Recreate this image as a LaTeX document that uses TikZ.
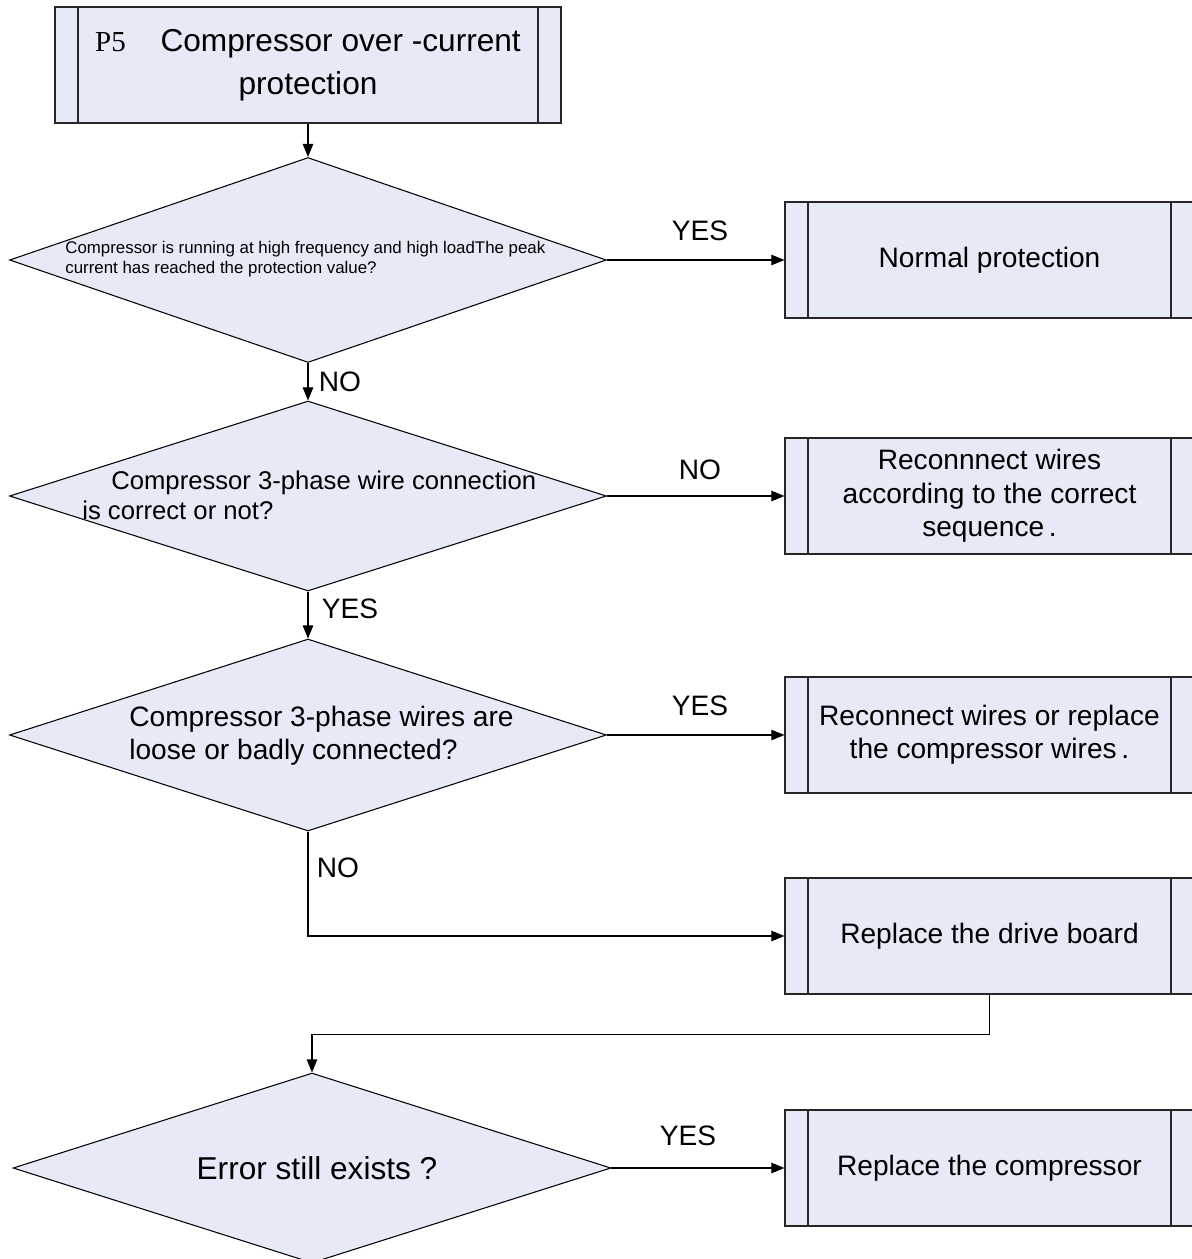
\documentclass[tikz,border=0pt]{standalone}
\usepackage{fontspec}
\setmainfont{Liberation Sans}
\newfontfamily\serifP{Liberation Serif}
\usetikzlibrary{shapes.geometric, arrows.meta}
\definecolor{fundo}{RGB}{230,234,246}

\begin{document}
\begin{tikzpicture}[
  x=0.02cm, y=-0.02cm,
  every node/.style={font=\fontsize{16}{19}\selectfont, align=center},
  proc/.style={rectangle, draw=black!85, line width=0.7pt, fill=fundo, minimum height=2.32cm, inner sep=0pt,
    path picture={
      \draw[black!85, line width=0.7pt] ([xshift=0.46cm]path picture bounding box.north west) -- ([xshift=0.46cm]path picture bounding box.south west);
      \draw[black!85, line width=0.7pt] ([xshift=-0.46cm]path picture bounding box.north east) -- ([xshift=-0.46cm]path picture bounding box.south east);}},
  dec/.style={diamond, draw=black, line width=0.6pt, fill=fundo, minimum width=11.94cm, inner sep=0pt},
  rot/.style={inner sep=0pt},
  seta/.style={-{Triangle[length=7.5pt, width=6pt]}, line width=0.6pt}
]
\useasboundingbox (0,0) rectangle (1192,1259);

% Caixa de titulo
\node[proc, minimum width=10.12cm, font=\fontsize{18}{24.4}\selectfont] (p5) at (308,65)
  {{\serifP\fontsize{16.5}{24.4}\selectfont P5}\hspace{1.1em}Compressor over -current\\protection};

% Losangos de decisao
\node[dec, minimum height=4.1cm] (d1) at (308,260) {};
\node[dec, minimum height=3.8cm] (d2) at (308,496) {};
\node[dec, minimum height=3.84cm] (d3) at (308,735) {};
\node[dec, minimum width=11.96cm, minimum height=3.8cm] (d5) at (312,1168) {};
\node[rot, anchor=west, align=left, font=\fontsize{9.6}{11.3}\selectfont] (t1) at (65,259)
  {Compressor is running at high frequency and high loadThe peak\\current has reached the protection value?};
\node[rot, anchor=west, align=left, font=\fontsize{14.6}{17}\selectfont] (t2) at (82,495)
  {\hspace*{0.58cm}Compressor 3-phase wire connection\\is correct or not?};
\node[rot, anchor=west, align=left, font=\fontsize{16}{18.7}\selectfont] (t3) at (129,736)
  {Compressor 3-phase wires are\\loose or badly connected?};
\node[rot, font=\fontsize{18}{21}\selectfont] (t5) at (317,1168) {Error still exists ?};

% Caixas de acao
\node[proc, minimum width=8.18cm] (b1) at (989.5,260) {Normal protection};
\node[proc, minimum width=8.18cm] (b2) at (989.5,496) {Reconnnect wires\\according to the correct\\sequence\,.};
\node[proc, minimum width=8.18cm] (b3) at (989.5,735) {Reconnect wires or replace\\the compressor wires\,.};
\node[proc, minimum width=8.18cm] (b4) at (989.5,936) {Replace the drive board};
\node[proc, minimum width=8.18cm] (b5) at (989.5,1168) {Replace the compressor};

% Ligacoes
\draw[seta] (p5.south) -- (d1.north);
\draw[seta] (d1.east) -- (b1.west);
\draw[seta] (d1.south) -- (d2.north);
\draw[seta] (d2.east) -- (b2.west);
\draw[seta] (d2.south) -- (d3.north);
\draw[seta] (d3.east) -- (b3.west);
\draw[seta] (d3.south) |- (b4.west);
\draw[seta] (b4.south) -- ++(0,40) -| (d5.north);
\draw[seta] (d5.east) -- (b5.west);

% Rotulos
\node[rot] (y1) at (700,231) {YES};
\node[rot] (n1) at (340,382) {NO};
\node[rot] (n2) at (700,470) {NO};
\node[rot] (y2) at (350,609) {YES};
\node[rot] (y3) at (700,706) {YES};
\node[rot] (n3) at (338,868) {NO};
\node[rot] (y4) at (688,1136) {YES};
\end{tikzpicture}
\end{document}
